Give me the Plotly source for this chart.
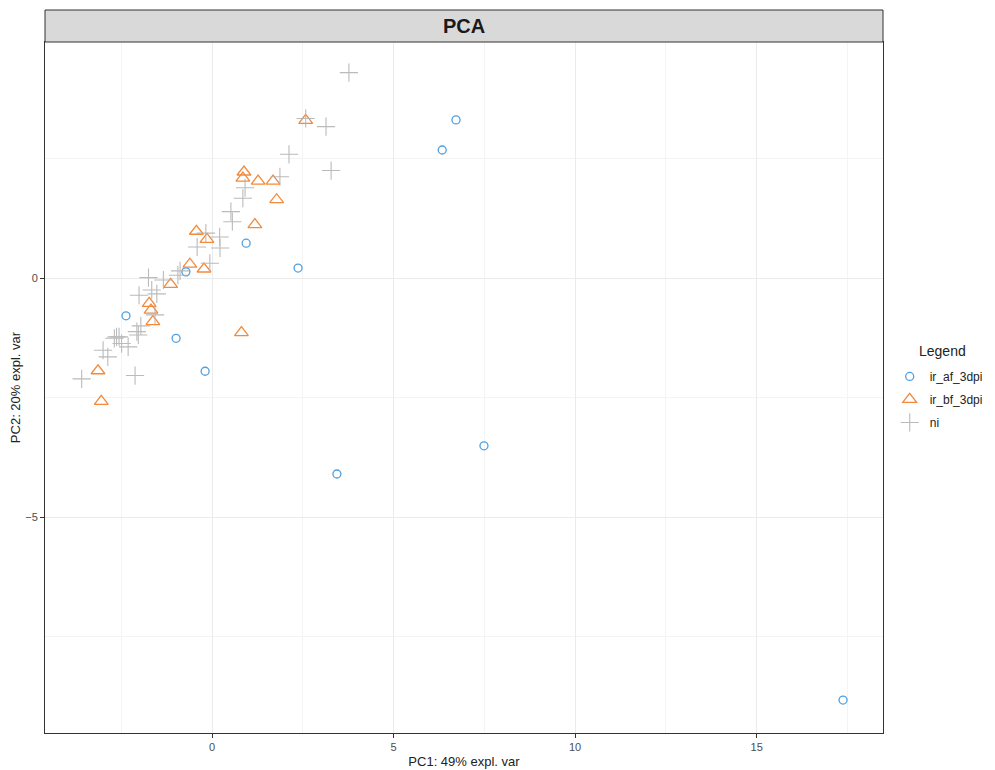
import plotly.graph_objects as go

# ---- data ----
af_x = [-2.37, -0.99, -0.72, -0.19, 0.94, 2.37, 6.34, 6.72, 7.49, 3.44, 17.38]
af_y = [-0.79, -1.26, 0.13, -1.95, 0.73, 0.21, 2.68, 3.31, -3.51, -4.10, -8.83]

bf_x = [2.58, 0.88, 0.85, 1.27, 1.68, 1.78, 1.18, -0.43, -0.14, -0.61, -0.22,
        -1.14, -1.73, -1.68, -1.63, 0.81, -3.14, -3.05]
bf_y = [3.30, 2.22, 2.09, 2.03, 2.03, 1.64, 1.12, 0.98, 0.81, 0.29, 0.19,
        -0.13, -0.53, -0.67, -0.91, -1.14, -1.94, -2.58]

ni_x = [3.77, 2.58, 3.14, 2.12, 3.28, 1.87, 0.91, 0.85, 0.52, 0.56, -0.17, 0.21,
        -0.41, 0.22, -0.06, -0.88, -0.94, -1.75, -1.34, -1.66, -2.01, -1.52,
        -1.57, -1.96, -2.03, -2.63, -2.56, -2.69, -2.31, -3.00, -2.87, -2.12,
        -3.59, -2.49, -2.07]
ni_y = [4.30, 3.34, 3.17, 2.59, 2.25, 2.12, 1.89, 1.67, 1.39, 1.18, 0.94, 0.86,
        0.65, 0.63, 0.31, 0.15, 0.06, 0.01, -0.04, -0.25, -0.36, -0.33,
        -0.77, -1.00, -1.19, -1.23, -1.23, -1.26, -1.44, -1.51, -1.65, -2.04,
        -2.11, -1.37, -1.12]

groups = ["ir_af_3dpi", "ir_bf_3dpi", "ni"]
x_ticks = [0, 5, 10, 15]
y_ticks = [-5, 0]

colors = {"ir_af_3dpi": "#4F9FE0", "ir_bf_3dpi": "#F28A3C", "ni": "#B4B4B4"}

fig = go.Figure()
fig.add_trace(go.Scatter(x=af_x, y=af_y, mode="markers", name=groups[0], legendgroup="a",
                         marker=dict(symbol="circle-open", size=8,
                                     color=colors[groups[0]], line=dict(width=1.3))))
fig.add_trace(go.Scatter(x=bf_x, y=bf_y, mode="markers", name=groups[1], legendgroup="b",
                         marker=dict(symbol="triangle-up-open", size=12,
                                     color=colors[groups[1]], line=dict(width=1.3))))
fig.add_trace(go.Scatter(x=ni_x, y=ni_y, mode="markers", name=groups[2], legendgroup="c",
                         marker=dict(symbol="cross-thin-open", size=13,
                                     color=colors[groups[2]], line=dict(width=1.1)),
                         opacity=0.9))

axis_common = dict(
    showgrid=True, gridcolor="#EBEBEB", gridwidth=1,
    zeroline=False, showline=True, linecolor="#333333", linewidth=1, mirror=True,
    ticks="outside", ticklen=4, tickcolor="#333333", tickwidth=1,
    tickfont=dict(family="Liberation Sans, Arial", size=11, color="#4D4D4D"),
    minor=dict(dtick=2.5, showgrid=True, gridcolor="#F4F4F4", gridwidth=1, ticks=""),
    automargin=False,
)

fig.update_xaxes(range=[-4.6, 18.48], tickvals=x_ticks, dtick=5, tick0=0,
                 title=dict(text="PC1: 49% expl. var", standoff=4,
                            font=dict(family="Liberation Sans, Arial", size=13, color="#222")),
                 **axis_common)
fig.update_yaxes(range=[-9.52, 4.94], tickvals=y_ticks, dtick=5, tick0=0,
                 title=dict(text="PC2: 20% expl. var", standoff=6,
                            font=dict(family="Liberation Sans, Arial", size=13, color="#222")),
                 **axis_common)

# facet strip
strip_h = 32 / 691
fig.add_shape(type="rect", xref="paper", yref="paper", x0=0, x1=1, y0=1, y1=1 + strip_h,
              fillcolor="#D9D9D9", line=dict(color="#333333", width=1), layer="above")
fig.add_annotation(text="<b>PCA</b>", xref="paper", yref="paper", x=0.5, y=1 + strip_h / 2,
                   showarrow=False, font=dict(family="Liberation Sans, Arial", size=20, color="#1A1A1A"),
                   xanchor="center", yanchor="middle")

# legend title (placed separately so the legend entries fit the page width)
fig.add_annotation(text="Legend", xref="paper", yref="paper", x=1.041, y=0.553,
                   showarrow=False, xanchor="left", yanchor="middle",
                   font=dict(family="Liberation Sans, Arial", size=14, color="#222"))

# the page body adds an 8px offset, so the figure is sized/margined to compensate
fig.update_layout(
    width=987, height=762,
    margin=dict(l=37, r=112, t=34, b=37, autoexpand=False),
    plot_bgcolor="white", paper_bgcolor="white",
    legend=dict(x=1.008, y=0.537, xanchor="left", yanchor="top",
                font=dict(family="Liberation Sans, Arial", size=12, color="#222"),
                itemsizing="trace", tracegroupgap=4, itemwidth=30),
    font=dict(family="Liberation Sans, Arial"),
)

fig.write_html("out.html")
